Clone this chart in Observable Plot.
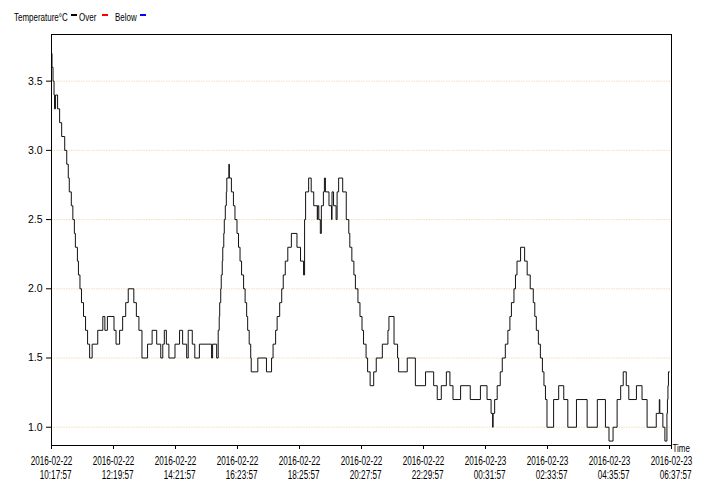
<!DOCTYPE html>
<html>
<head>
<meta charset="utf-8">
<script src="https://cdn.jsdelivr.net/npm/d3@7"></script>
<script src="https://cdn.jsdelivr.net/npm/@observablehq/plot@0.6"></script>
<style>
  body { margin: 0; background: #fff; }
  #wrap { position: relative; width: 712px; height: 500px; }
  #legend { position: absolute; left: 0; top: 0; width: 712px; height: 30px; font-family: "Liberation Sans", Arial, sans-serif; font-size: 10.5px; color: #000; }
  #legend span.t { position: absolute; top: 11px; line-height: 12px; transform: scaleX(0.76); transform-origin: left center; white-space: nowrap; }
  #legend span.k { position: absolute; top: 14px; width: 6px; height: 2px; }
  #chart { position: absolute; left: 0; top: 0; }
</style>
</head>
<body>
<div id="wrap">
  <div id="chart"></div>
  <div id="legend"></div>
</div>
<script>
// ---- data ----
const startTime = "2016-02-22T10:17:57Z";
// minutes after start at which the reading changes (step-after)
const minutes = [0,1,3,5,6,8,12,16,20,26,30,33,35,39,42,45,47,51,53,56,59,63,67,71,75,80,91,101,105,110,123,127,134,140,146,151,162,167,172,178,189,198,207,215,219,222,226,231,243,252,258,266,269,277,282,291,315,317,325,328,330,331,333,334,336,337,339,340,342,344,345,349,350,354,358,361,365,368,371,374,378,381,384,386,389,392,393,406,423,433,436,441,444,449,453,456,460,465,472,483,490,496,498,500,506,511,516,523,524,526,529,531,535,537,539,546,551,552,555,560,562,565,573,580,585,587,591,595,598,603,607,611,614,619,622,627,634,639,651,662,664,674,681,683,700,716,736,752,759,767,777,784,790,805,824,844,857,865,868,869,872,877,883,887,893,898,902,905,910,913,916,923,931,936,942,948,951,954,958,962,966,969,972,975,988,998,1008,1016,1033,1054,1074,1090,1097,1105,1113,1120,1125,1131,1136,1151,1162,1172,1190,1196,1197,1203,1207,1211,1212,1213,1214,1216];
const temps = [3.7,3.6,3.5,3.4,3.3,3.4,3.3,3.2,3.1,3.0,2.9,2.8,2.7,2.6,2.5,2.4,2.3,2.2,2.1,2.0,1.9,1.8,1.7,1.6,1.5,1.6,1.7,1.8,1.7,1.8,1.7,1.6,1.7,1.8,1.9,2.0,1.9,1.8,1.7,1.5,1.6,1.7,1.6,1.5,1.6,1.7,1.6,1.5,1.6,1.7,1.6,1.5,1.7,1.6,1.5,1.6,1.5,1.6,1.5,1.7,1.8,1.9,2.0,2.1,2.2,2.3,2.4,2.5,2.6,2.7,2.8,2.9,2.8,2.7,2.6,2.5,2.4,2.3,2.2,2.1,2.0,1.9,1.8,1.7,1.6,1.5,1.4,1.5,1.4,1.5,1.6,1.7,1.8,1.9,2.0,2.1,2.2,2.3,2.4,2.3,2.2,2.1,2.5,2.7,2.8,2.7,2.6,2.5,2.6,2.5,2.4,2.6,2.7,2.8,2.7,2.6,2.5,2.7,2.6,2.5,2.7,2.8,2.7,2.5,2.4,2.3,2.2,2.1,2.0,1.9,1.8,1.7,1.6,1.5,1.4,1.3,1.4,1.5,1.6,1.7,1.8,1.6,1.5,1.4,1.5,1.3,1.4,1.3,1.2,1.3,1.4,1.3,1.2,1.3,1.2,1.3,1.2,1.1,1.0,1.1,1.2,1.3,1.4,1.5,1.6,1.7,1.8,1.9,2.0,2.1,2.2,2.3,2.2,2.1,2.0,1.9,1.8,1.7,1.6,1.5,1.4,1.3,1.2,1.0,1.2,1.3,1.2,1.0,1.2,1.0,1.2,1.0,0.9,1.0,1.2,1.3,1.4,1.3,1.2,1.3,1.2,1.0,1.1,1.2,1.1,1.0,0.9,1.1,1.2,1.3,1.4,1.4];
const tickDates = ["2016-02-22","2016-02-22","2016-02-22","2016-02-22","2016-02-22","2016-02-22","2016-02-22","2016-02-23","2016-02-23","2016-02-23","2016-02-23"];
const tickTimes = ["10:17:57","12:19:57","14:21:57","16:23:57","18:25:57","20:27:57","22:29:57","00:31:57","02:33:57","04:35:57","06:37:57"];
const yTicks = [1.0, 1.5, 2.0, 2.5, 3.0, 3.5];
const legendLabels = ["Temperature°C", "Over", "Below"];
const legendColors = ["#000000", "#ff0000", "#0000ff"];
const xLabel = "Time";

// ---- build ----
const t0 = new Date(startTime);
const data = minutes.map((m, i) => ({ time: new Date(+t0 + m * 60000), temp: temps[i] }));
const ticks = tickDates.map((d, i) => ({ x: new Date(`${d}T${tickTimes[i]}Z`), date: d, time: tickTimes[i] }));
const xDomain = [ticks[0].x, ticks[ticks.length - 1].x];

const chart = Plot.plot({
  width: 712,
  height: 500,
  marginLeft: 51,
  marginRight: 41,
  marginTop: 34,
  marginBottom: 55,
  style: { fontFamily: "'Liberation Sans', Arial, sans-serif", fontSize: "10.5px", background: "#fff", color: "#000" },
  x: { type: "utc", domain: xDomain },
  y: { domain: [0.868, 3.837] },
  marks: [
    Plot.ruleY(yTicks, { stroke: "#f6d6a8", strokeOpacity: 0.8, strokeDasharray: "1.5,1" }),
    Plot.line(data, { x: "time", y: "temp", curve: "step-after", stroke: "#111", strokeWidth: 1 }),
    Plot.frame({ stroke: "#000", strokeWidth: 1 }),
    Plot.axisY(yTicks, { tickSize: 5, tickPadding: 4, tickFormat: d => d.toFixed(1), label: null, stroke: "#000" }),
    Plot.axisX(ticks.map(d => d.x), { tickSize: 4, tickFormat: () => "", label: null, stroke: "#000" }),
    Plot.text(ticks, { x: "x", text: "date", frameAnchor: "bottom", lineAnchor: "middle", dy: 16, fontSize: 12, className: "xlab" }),
    Plot.text(ticks, { x: "x", text: "time", frameAnchor: "bottom", lineAnchor: "middle", dy: 29.5, dx: 20, textAnchor: "end", fontSize: 12, className: "xlab" }),
    Plot.text([xLabel], { frameAnchor: "bottom-right", lineAnchor: "middle", dx: 1, dy: 3, textAnchor: "start", fontSize: 10.5, className: "tlab" })
  ]
});
document.getElementById("chart").appendChild(chart);

// squeeze the condensed-looking labels around their anchors
chart.querySelectorAll(".xlab text").forEach(t => {
  t.setAttribute("transform", (t.getAttribute("transform") || "") + " scale(0.68,1)");
});
chart.querySelectorAll(".tlab text").forEach(t => {
  t.setAttribute("transform", (t.getAttribute("transform") || "") + " scale(0.76,1)");
});

// legend
const legend = document.getElementById("legend");
const textX = [14, 79, 115];
const keyX = [71, 102, 140];
legendLabels.forEach((lab, i) => {
  const s = document.createElement("span");
  s.className = "t"; s.textContent = lab; s.style.left = textX[i] + "px";
  legend.appendChild(s);
  const k = document.createElement("span");
  k.className = "k"; k.style.left = keyX[i] + "px"; k.style.background = legendColors[i];
  legend.appendChild(k);
});
</script>
</body>
</html>
